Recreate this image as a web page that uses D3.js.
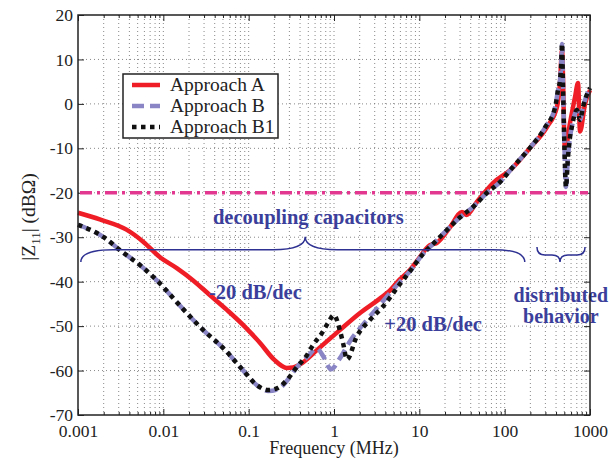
<!DOCTYPE html>
<html>
<head>
<meta charset="utf-8">
<script src="https://cdn.jsdelivr.net/npm/d3@7"></script>
<style>
  body { margin: 0; background: #fff; }
  svg { display: block; }
</style>
</head>
<body>
<script>
// data: frequency in MHz, |Z11| in dB-ohm
var freqA = [0.001,0.0018,0.0037,0.0058,0.009,0.0145,0.022,0.035,0.056,0.09,0.136,0.2,0.28,0.33,0.4,0.63,1.17,2.0,3.5,4.5,5.9,7.8,9.4,13.3,16,23,31.6,36,47,73,116,198,313,410,445,470,509,583,667,724,764,875,1000];
var dbA   = [-24.5,-26.0,-28.3,-31.0,-34.4,-37.0,-39.6,-43.0,-46.4,-50.1,-53.8,-57.6,-59.4,-59.3,-58.6,-55.4,-50.9,-47.1,-43.7,-42.0,-39.5,-37.3,-35.3,-31.8,-31.3,-27.7,-24.3,-25.0,-22.1,-17.8,-14.9,-9.9,-5.2,-0.7,4.7,12.0,-10.4,-4.3,1.5,4.7,-6.2,0.0,3.1];

var freqB = [0.001,0.002,0.0031,0.0055,0.0087,0.015,0.0294,0.05,0.0856,0.125,0.169,0.221,0.281,0.368,0.483,0.632,0.743,0.923,1.175,1.54,2.44,3.75,5.94,7.8,11,14.5,21,30,42.6,62,88,125,188,300,389,422,445,458,470,483,496,523,552,583,615,704,764,828,948,1000];
var dbB   = [-27.2,-30.0,-32.9,-36.5,-40.0,-45.0,-50.9,-54.9,-59.9,-63.3,-64.6,-64.2,-62.3,-59.2,-57.0,-55.0,-56.7,-59.7,-57.2,-53.4,-48.6,-44.4,-40.0,-37.6,-33.8,-31.5,-28.4,-25.5,-23.2,-20.0,-17.6,-14.2,-10.4,-5.2,-0.9,3.1,5.4,8.3,13.5,3.8,-5.9,-18.7,-12.0,-7.5,-5.0,-1.4,-3.6,-0.7,2.7,3.6];

var freqB1 = [0.001,0.002,0.0031,0.0055,0.0087,0.015,0.0294,0.05,0.0856,0.125,0.169,0.221,0.281,0.368,0.483,0.57,0.72,0.85,1.0,1.17,1.28,1.42,1.84,2.64,3.75,5.94,7.8,11,14.5,21,30,42.6,62,88,125,188,300,389,422,445,458,470,483,496,523,552,583,615,704,764,828,948,1000];
var dbB1   = [-27.2,-30.0,-32.9,-36.5,-40.0,-45.0,-50.9,-54.9,-59.9,-63.3,-64.4,-63.9,-62.1,-59.2,-56.5,-54.2,-51.6,-49.3,-47.5,-50.9,-53.9,-57.5,-52.4,-48.6,-45.6,-40.5,-37.6,-33.8,-31.5,-28.4,-25.5,-23.2,-20.0,-17.6,-14.2,-10.4,-5.2,-0.9,3.1,5.4,8.3,13.5,3.8,-5.9,-18.7,-12.0,-7.5,-5.0,-1.4,-3.6,-0.7,2.7,3.6];

var seriesNames = ["Approach A", "Approach B", "Approach B1"];
var limitDb = -20;

var xMajor = [0.001, 0.01, 0.1, 1, 10, 100, 1000];
var yMajor = [-70, -60, -50, -40, -30, -20, -10, 0, 10, 20];

// annotation text and braces (in data units)
var notes = [
  {text: "decoupling capacitors", f: 0.5, db: -27.0, size: 20.5},
  {text: "-20 dB/dec", f: 0.12, db: -43.9, size: 20.5},
  {text: "+20 dB/dec", f: 14.5, db: -51.1, size: 20.5},
  {text: "distributed", f: 455, db: -44.6, size: 20},
  {text: "behavior", f: 455, db: -49.3, size: 20}
];
var braces = [
  {f0: 0.00108, f1: 172, fm: 0.46, dbEnd: -35.6, dbBar: -32.8, dbTip: -29.9, bend: 32},
  {f0: 239, f1: 875, fm: 445, dbEnd: -32.2, dbBar: -34.0, dbTip: -35.6, bend: 8}
];

var width = 609, height = 459;
var svg = d3.select("body").append("svg")
  .attr("width", width)
  .attr("height", height);

var x = d3.scaleLog().domain([0.001, 1000]).range([78, 590]);
var y = d3.scaleLinear().domain([-70, 20]).range([415, 15]);

var serif = "'Liberation Serif', 'Times New Roman', serif";

// grid
var grid = svg.append("g").attr("class", "grid")
  .attr("stroke", "#6a6a6a").attr("stroke-width", 0.8).attr("stroke-dasharray", "1,3");
var xAll = x.ticks().filter(function(d){ return d > 0.0011 && d < 990; });
grid.selectAll(".vg").data(xAll).enter().append("line")
  .attr("x1", function(d){ return x(d); }).attr("x2", function(d){ return x(d); })
  .attr("y1", y(20)).attr("y2", y(-70));
grid.selectAll(".hg").data(yMajor.slice(1, -1)).enter().append("line")
  .attr("y1", function(d){ return y(d); }).attr("y2", function(d){ return y(d); })
  .attr("x1", x(0.001)).attr("x2", x(1000));

// axes, ticks pointing inward
function styleAxis(g) {
  g.select(".domain").remove();
  g.selectAll("text").attr("font-family", serif).attr("font-size", 17.5).attr("fill", "#222");
  g.selectAll("line").attr("stroke", "#222");
}
var xMinor = xAll.filter(function(d){ return xMajor.indexOf(+d.toPrecision(3)) < 0; });

svg.append("g").attr("transform", "translate(0," + y(-70) + ")")
  .call(d3.axisBottom(x).tickValues(xMajor).tickSize(-6).tickPadding(10)
    .tickFormat(function(d){ return String(d); }))
  .call(styleAxis);
svg.append("g").attr("transform", "translate(0," + y(-70) + ")")
  .call(d3.axisBottom(x).tickValues(xMinor).tickSize(-3).tickFormat(""))
  .call(styleAxis);
svg.append("g").attr("transform", "translate(0," + y(20) + ")")
  .call(d3.axisTop(x).tickValues(xMajor).tickSize(-6).tickFormat(""))
  .call(styleAxis);
svg.append("g").attr("transform", "translate(0," + y(20) + ")")
  .call(d3.axisTop(x).tickValues(xMinor).tickSize(-3).tickFormat(""))
  .call(styleAxis);
svg.append("g").attr("transform", "translate(" + x(0.001) + ",0)")
  .call(d3.axisLeft(y).tickValues(yMajor).tickSize(-6).tickPadding(5)
    .tickFormat(function(d){ return String(d); }))
  .call(styleAxis);
svg.append("g").attr("transform", "translate(" + x(1000) + ",0)")
  .call(d3.axisRight(y).tickValues(yMajor).tickSize(-6).tickFormat(""))
  .call(styleAxis);

// limit line
svg.append("line")
  .attr("x1", x(0.001) + 2).attr("x2", x(1000) - 2)
  .attr("y1", y(limitDb)).attr("y2", y(limitDb))
  .attr("stroke", "#e2388f").attr("stroke-width", 3.5)
  .attr("stroke-dasharray", "12,5,3,5");

// curves
var line = d3.line()
  .x(function(d){ return x(d[0]); })
  .y(function(d){ return y(d[1]); })
  .curve(d3.curveMonotoneX);

function pairs(f, v) { return f.map(function(d, i){ return [d, v[i]]; }); }

var styles = [
  {stroke: "#ee1d26", width: 4.5, dash: null},
  {stroke: "#8a86c6", width: 4.5, dash: "12,6"},
  {stroke: "#111", width: 4.5, dash: "4.5,4.5"}
];
var seriesData = [pairs(freqA, dbA), pairs(freqB, dbB), pairs(freqB1, dbB1)];

var curves = svg.append("g").attr("class", "curves");
seriesData.forEach(function(d, i){
  curves.append("path")
    .attr("d", line(d))
    .attr("fill", "none")
    .attr("stroke", styles[i].stroke)
    .attr("stroke-width", styles[i].width)
    .attr("stroke-dasharray", styles[i].dash)
    .attr("stroke-linejoin", "round");
});

// braces
var braceColor = "#2e3192";
braces.forEach(function(b){
  var x0 = x(b.f0), x1 = x(b.f1), xm = x(b.fm);
  var ye = y(b.dbEnd), yb = y(b.dbBar), yt = y(b.dbTip);
  var k = b.bend;
  var p = "M" + x0 + "," + ye +
    " Q" + x0 + "," + yb + " " + (x0 + k) + "," + yb +
    " L" + (xm - k) + "," + yb +
    " Q" + xm + "," + yb + " " + xm + "," + yt +
    " Q" + xm + "," + yb + " " + (xm + k) + "," + yb +
    " L" + (x1 - k) + "," + yb +
    " Q" + x1 + "," + yb + " " + x1 + "," + ye;
  svg.append("path").attr("d", p)
    .attr("fill", "none").attr("stroke", braceColor).attr("stroke-width", 1.5);
});

// annotation text
svg.selectAll(".note").data(notes).enter().append("text")
  .attr("class", "note")
  .attr("x", function(d){ return x(d.f); })
  .attr("y", function(d){ return y(d.db); })
  .attr("text-anchor", "middle")
  .attr("font-family", serif).attr("font-weight", "bold")
  .attr("font-size", function(d){ return d.size; })
  .attr("fill", "#3b3f9b")
  .text(function(d){ return d.text; });

// frame
svg.append("rect")
  .attr("x", x(0.001)).attr("y", y(20))
  .attr("width", x(1000) - x(0.001)).attr("height", y(-70) - y(20))
  .attr("fill", "none").attr("stroke", "#222").attr("stroke-width", 1.5);

// legend
var legend = svg.append("g").attr("transform", "translate(123,74)");
legend.append("rect").attr("width", 155).attr("height", 64)
  .attr("fill", "#fff").attr("stroke", "#222").attr("stroke-width", 1.5);
seriesNames.forEach(function(name, i){
  var ly = 11 + i * 21;
  legend.append("line")
    .attr("x1", 9).attr("x2", 37).attr("y1", ly).attr("y2", ly)
    .attr("stroke", styles[i].stroke).attr("stroke-width", styles[i].width)
    .attr("stroke-dasharray", styles[i].dash);
  legend.append("text")
    .attr("x", 47).attr("y", ly + 6)
    .attr("font-family", serif).attr("font-size", 19.5).attr("fill", "#222")
    .text(name);
});

// axis titles
svg.append("text")
  .attr("x", x(1)).attr("y", 454)
  .attr("text-anchor", "middle")
  .attr("font-family", serif).attr("font-size", 18).attr("fill", "#222")
  .text("Frequency (MHz)");

var yt = svg.append("text")
  .attr("transform", "translate(35," + 217 + ") rotate(-90)")
  .attr("text-anchor", "middle")
  .attr("font-family", serif).attr("font-size", 19.5).attr("fill", "#222");
yt.append("tspan").text("|Z");
yt.append("tspan").attr("dy", 5).attr("font-size", 13).text("11");
yt.append("tspan").attr("dy", -5).text("| (dB\u03a9)");
</script>
</body>
</html>
